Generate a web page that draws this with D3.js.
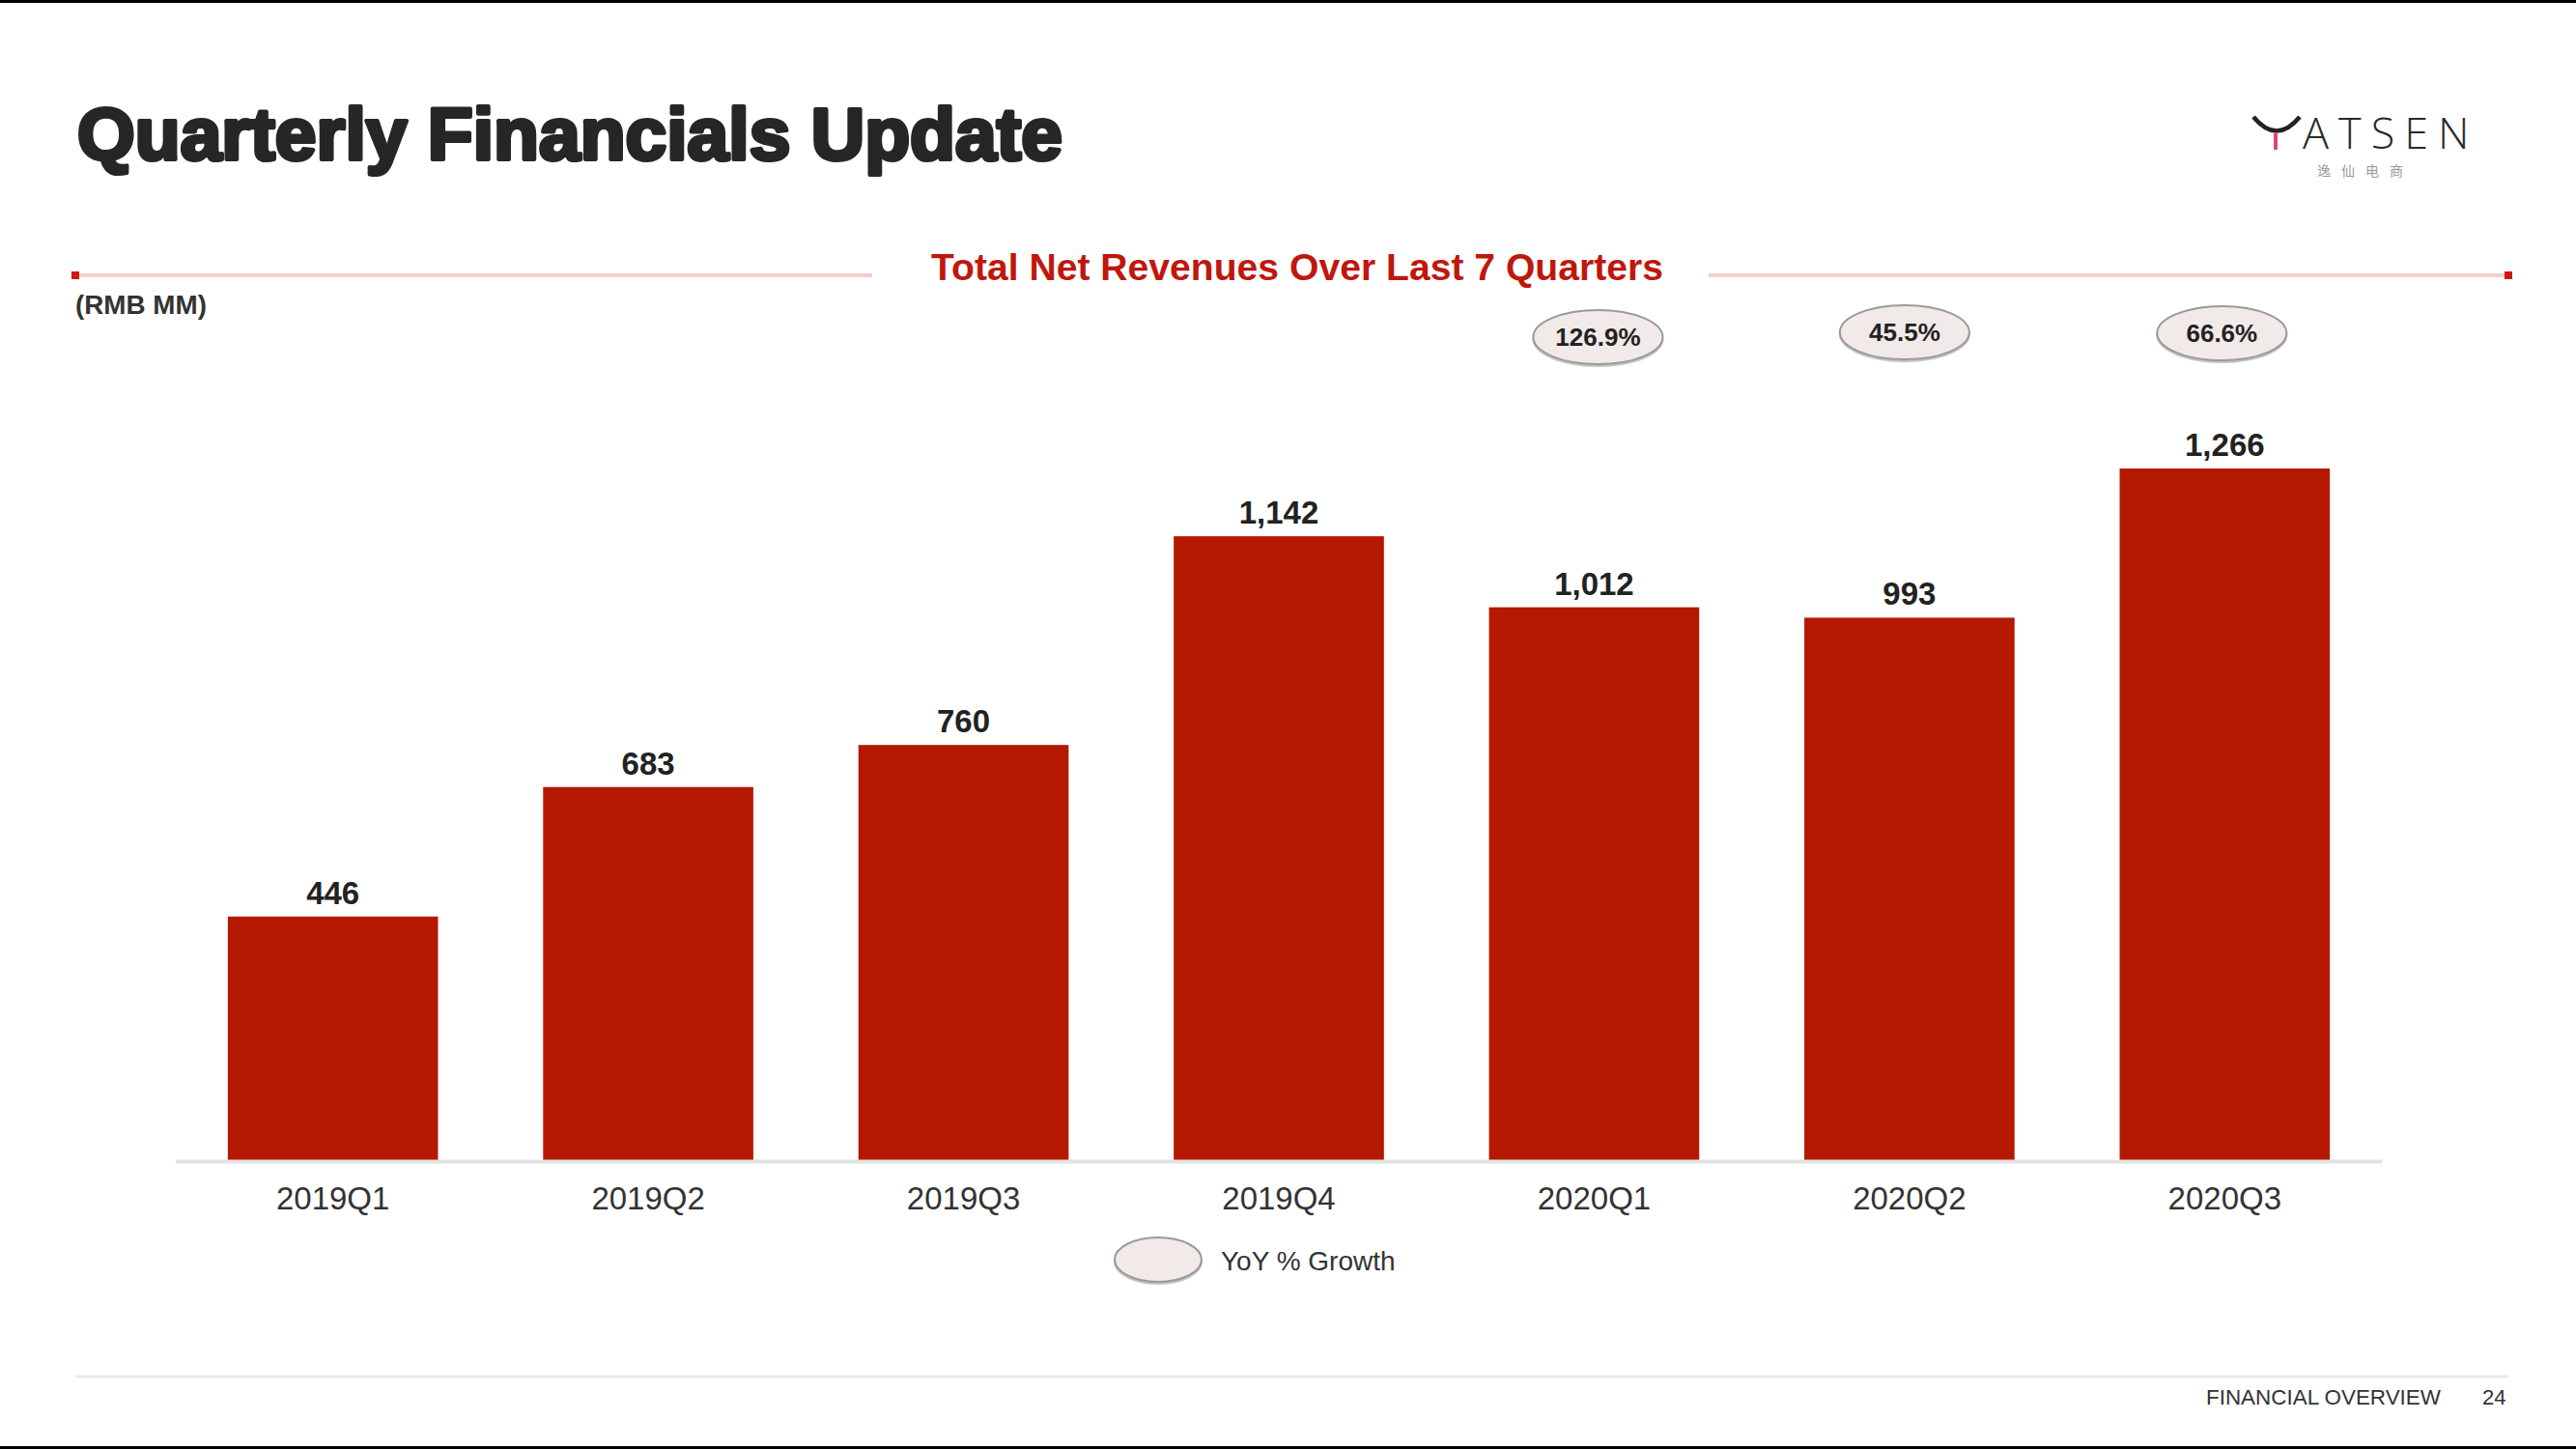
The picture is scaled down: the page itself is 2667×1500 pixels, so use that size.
<!DOCTYPE html>
<html>
<head>
<meta charset="utf-8">
<script src="https://cdn.jsdelivr.net/npm/d3@7"></script>
<style>
  html, body { margin: 0; padding: 0; background: #fff; }
  svg { display: block; }
</style>
</head>
<body>
<svg id="chart" width="2667" height="1500"></svg>
<script>
// ---- data ----
const quarters = ["2019Q1", "2019Q2", "2019Q3", "2019Q4", "2020Q1", "2020Q2", "2020Q3"];
const revenues = [446, 683, 760, 1142, 1012, 993, 1266];
const growthQuarters = ["2020Q1", "2020Q2", "2020Q3"];
const growthLabels = ["126.9%", "45.5%", "66.6%"];

const W = 2667, H = 1500;
const svg = d3.select("#chart");
const FONT = "'Liberation Sans', Arial, Helvetica, sans-serif";

// frame lines (top / bottom)
svg.append("rect").attr("x", 0).attr("y", 0).attr("width", W).attr("height", 3).attr("fill", "#000");
svg.append("rect").attr("x", 0).attr("y", 1497).attr("width", W).attr("height", 3).attr("fill", "#000");

// helper: fit text to a target width by adjusting font size
function fitWidth(sel, target) {
  const node = sel.node();
  const fs = parseFloat(sel.attr("font-size"));
  const w = node.getComputedTextLength();
  if (w > 0) sel.attr("font-size", (fs * target / w).toFixed(2));
  return sel;
}

// title
const title = svg.append("text")
  .attr("x", 80).attr("y", 165)
  .attr("font-family", FONT).attr("font-weight", "bold")
  .attr("font-size", 72)
  .attr("fill", "#262626").attr("stroke", "#262626").attr("stroke-width", 4.2)
  .attr("stroke-linejoin", "round")
  .text("Quarterly Financials Update");
fitWidth(title, 1020);

// logo
const logo = svg.append("g");
logo.append("path")
  .attr("d", "M2333,121 Q2357,150 2381,121")
  .attr("fill", "none").attr("stroke", "#222").attr("stroke-width", 4.5);
logo.append("line")
  .attr("x1", 2356).attr("y1", 137).attr("x2", 2356).attr("y2", 155)
  .attr("stroke", "#e0457a").attr("stroke-width", 4);
logo.append("text")
  .attr("x", 2384).attr("y", 154)
  .attr("font-family", "'Open Sans', 'DejaVu Sans', sans-serif")
  .attr("font-weight", 300).attr("font-size", 45)
  .attr("letter-spacing", 10)
  .attr("fill", "#2a2a2a")
  .text("ATSEN");
logo.append("text")
  .attr("x", 2399).attr("y", 182)
  .attr("font-family", "'Noto Sans CJK SC', sans-serif")
  .attr("font-size", 14).attr("letter-spacing", 11)
  .attr("fill", "#999")
  .text("逸仙电商");

// section header lines
svg.append("line").attr("x1", 78).attr("x2", 903).attr("y1", 285).attr("y2", 285)
  .attr("stroke", "#f3cfcd").attr("stroke-width", 4);
svg.append("line").attr("x1", 1769).attr("x2", 2597).attr("y1", 285).attr("y2", 285)
  .attr("stroke", "#f3cfcd").attr("stroke-width", 4);
svg.append("rect").attr("x", 74).attr("y", 281).attr("width", 8).attr("height", 8).attr("fill", "#cc1a0e");
svg.append("rect").attr("x", 2593).attr("y", 281).attr("width", 8).attr("height", 8).attr("fill", "#cc1a0e");

const sub = svg.append("text")
  .attr("x", 1343).attr("y", 290)
  .attr("text-anchor", "middle")
  .attr("font-family", FONT).attr("font-weight", "bold")
  .attr("font-size", 37).attr("fill", "#c0170d")
  .text("Total Net Revenues Over Last 7 Quarters");
fitWidth(sub, 758);

const rmb = svg.append("text")
  .attr("x", 78).attr("y", 325)
  .attr("font-family", FONT).attr("font-weight", "bold")
  .attr("font-size", 27).attr("fill", "#333")
  .text("(RMB MM)");
fitWidth(rmb, 136);

// ---- scales ----
const x = d3.scaleBand()
  .domain(quarters)
  .range([182, 2466])
  .paddingInner(1 / 3)
  .paddingOuter(0.165);

const y = d3.scaleLinear()
  .domain([0, 1266])
  .range([1201, 485]);

// bars
svg.append("g").selectAll("rect")
  .data(quarters)
  .join("rect")
  .attr("x", d => x(d))
  .attr("y", (d, i) => y(revenues[i]))
  .attr("width", x.bandwidth())
  .attr("height", (d, i) => y(0) - y(revenues[i]))
  .attr("fill", "#b41900");

// baseline axis
const axis = svg.append("g")
  .attr("transform", `translate(0,${y(0)})`)
  .call(d3.axisBottom(x).tickSize(0).tickPadding(28));
axis.select(".domain").attr("stroke", "#e2e2e2").attr("stroke-width", 4)
  .attr("d", "M182,1.5H2466");
axis.selectAll(".tick text")
  .attr("font-family", FONT).attr("font-size", 33).attr("fill", "#333");

// value labels
svg.append("g").selectAll("text")
  .data(quarters)
  .join("text")
  .attr("x", d => x(d) + x.bandwidth() / 2)
  .attr("y", (d, i) => y(revenues[i]) - 13)
  .attr("text-anchor", "middle")
  .attr("font-family", FONT).attr("font-weight", "bold")
  .attr("font-size", 33).attr("fill", "#222")
  .text((d, i) => d3.format(",")(revenues[i]));

// growth bubbles
const gy = [349, 344, 345];
const bub = svg.append("g").selectAll("g")
  .data(growthQuarters)
  .join("g")
  .attr("transform", (d, i) => `translate(${x(d) + x.bandwidth() / 2 + [4, -5, -3][i]},${gy[i]})`);
bub.append("ellipse")
  .attr("cx", 0).attr("cy", 2).attr("rx", 68).attr("ry", 29)
  .attr("fill", "#8a8a8a").attr("opacity", 0.5);
bub.append("ellipse")
  .attr("rx", 67).attr("ry", 28)
  .attr("fill", "#f2e9e9").attr("stroke", "#9a9a9a").attr("stroke-width", 2);
bub.append("text")
  .attr("y", 9)
  .attr("text-anchor", "middle")
  .attr("font-family", FONT).attr("font-weight", "bold")
  .attr("font-size", 26).attr("fill", "#222")
  .text((d, i) => growthLabels[i]);

// legend
svg.append("ellipse")
  .attr("cx", 1199).attr("cy", 1306).attr("rx", 46).attr("ry", 24)
  .attr("fill", "#8a8a8a").attr("opacity", 0.5);
svg.append("ellipse")
  .attr("cx", 1199).attr("cy", 1304).attr("rx", 45).attr("ry", 23)
  .attr("fill", "#f2e9e9").attr("stroke", "#9a9a9a").attr("stroke-width", 2);
svg.append("text")
  .attr("x", 1264).attr("y", 1315)
  .attr("font-family", FONT).attr("font-size", 28).attr("fill", "#333")
  .text("YoY % Growth");

// footer
svg.append("line").attr("x1", 78).attr("x2", 2597).attr("y1", 1425).attr("y2", 1425)
  .attr("stroke", "#ebebeb").attr("stroke-width", 3);
const fo = svg.append("text")
  .attr("x", 2284).attr("y", 1454)
  .attr("font-family", FONT).attr("font-size", 22).attr("fill", "#333")
  .text("FINANCIAL OVERVIEW");
fitWidth(fo, 243);
svg.append("text")
  .attr("x", 2570).attr("y", 1454)
  .attr("font-family", FONT).attr("font-size", 22).attr("fill", "#333")
  .text("24");
</script>
</body>
</html>
